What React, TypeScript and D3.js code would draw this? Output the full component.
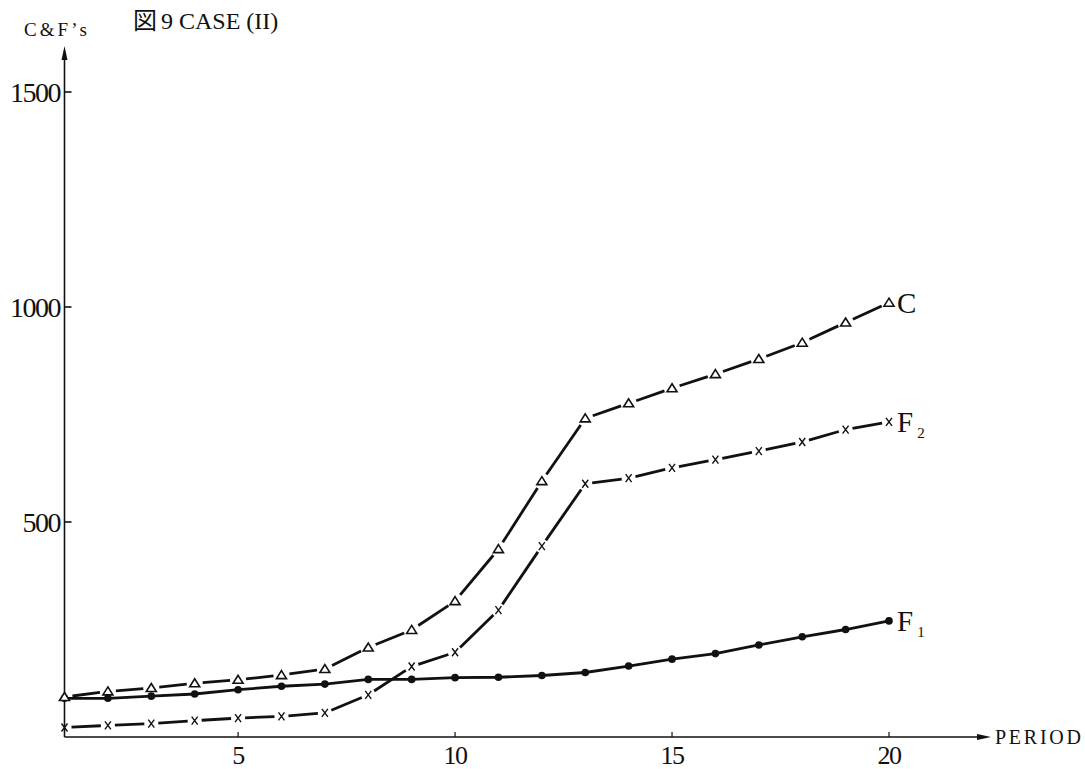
import React, { useEffect, useRef } from "react";
import * as d3 from "d3";

const periods = [1, 2, 3, 4, 5, 6, 7, 8, 9, 10, 11, 12, 13, 14, 15, 16, 17, 18, 19, 20];
const cValues = [93, 106, 114, 125, 133, 144, 158, 208, 249, 316, 437, 595, 741, 776, 811, 844, 879, 917, 964, 1010];
const f1Values = [90, 90, 95, 100, 110, 118, 123, 134, 134, 138, 139, 143, 150, 165, 181, 194, 214, 233, 250, 270];
const f2Values = [22, 27, 31, 38, 44, 48, 56, 98, 164, 197, 295, 444, 589, 602, 626, 645, 665, 686, 715, 733];
const xTicks = [5, 10, 15, 20];
const yTicks = [500, 1000, 1500];

const W = 1085;
const H = 769;
const SERIF = "'Liberation Serif', 'DejaVu Serif', serif";

export default function App() {
  const ref = useRef<SVGSVGElement>(null);

  useEffect(() => {
    const svg = d3.select(ref.current);
    svg.selectAll("*").remove();

    const x = d3.scaleLinear().domain([1, 20]).range([64.5, 889]);
    const y = d3.scaleLinear().domain([0, 1500]).range([737, 92]);
    const ink = "#111";

    // axes
    svg.append("line")
      .attr("x1", x(1)).attr("x2", 980)
      .attr("y1", y(0)).attr("y2", y(0))
      .attr("stroke", ink).attr("stroke-width", 1.6);
    svg.append("path")
      .attr("d", `M991,${y(0)} L977,${y(0) - 3} L977,${y(0) + 3} Z`)
      .attr("fill", ink);
    svg.append("text")
      .attr("x", 995).attr("y", y(0) + 7)
      .attr("font-family", SERIF).attr("font-size", 20)
      .attr("textLength", 86).attr("lengthAdjust", "spacing")
      .attr("fill", ink)
      .text("PERIOD");

    svg.append("line")
      .attr("x1", x(1)).attr("x2", x(1))
      .attr("y1", y(0)).attr("y2", 58)
      .attr("stroke", ink).attr("stroke-width", 1.6);
    svg.append("path")
      .attr("d", `M${x(1)},46 L${x(1) - 3},60 L${x(1) + 3},60 Z`)
      .attr("fill", ink);

    svg.selectAll(".ytick").data(yTicks).enter().append("line")
      .attr("x1", x(1)).attr("x2", x(1) + 7)
      .attr("y1", d => y(d)).attr("y2", d => y(d))
      .attr("stroke", ink).attr("stroke-width", 1.6);
    svg.selectAll(".ylab").data(yTicks).enter().append("text")
      .attr("x", 60).attr("y", d => y(d) + 10)
      .attr("text-anchor", "end")
      .attr("font-family", SERIF).attr("font-size", 28)
      .attr("letter-spacing", -1.5)
      .attr("fill", ink)
      .text(d => d);

    svg.selectAll(".xtick").data(xTicks).enter().append("line")
      .attr("x1", d => x(d)).attr("x2", d => x(d))
      .attr("y1", y(0)).attr("y2", y(0) - 5)
      .attr("stroke", ink).attr("stroke-width", 1.2);
    svg.selectAll(".xlab").data(xTicks).enter().append("text")
      .attr("x", d => x(d)).attr("y", y(0) + 27)
      .attr("text-anchor", "middle")
      .attr("font-family", SERIF).attr("font-size", 26)
      .attr("letter-spacing", -1.5)
      .attr("fill", ink)
      .text(d => d);

    svg.append("text")
      .attr("x", 24).attr("y", 36)
      .attr("font-family", SERIF).attr("font-size", 19)
      .attr("textLength", 63).attr("lengthAdjust", "spacing")
      .attr("fill", ink)
      .text("C&F\u2019s");
    const title = svg.append("text")
      .attr("x", 133).attr("y", 29)
      .attr("font-family", "'Liberation Serif', 'Noto Sans CJK JP', serif")
      .attr("font-size", 24)
      .attr("fill", ink)
      .text("図");
    title.append("tspan").attr("dx", 4).text("9 CASE (II)");

    // F1: solid line with dots
    const pts1 = periods.map((p, i) => [x(p), y(f1Values[i])] as [number, number]);
    svg.append("path")
      .attr("d", d3.line()(pts1))
      .attr("fill", "none").attr("stroke", ink).attr("stroke-width", 2.8);
    svg.selectAll(".f1dot").data(pts1).enter().append("circle")
      .attr("cx", d => d[0]).attr("cy", d => d[1]).attr("r", 3.8)
      .attr("fill", ink);

    // C and F2: segments broken at each marker
    const gapped = (vals: number[], gap: number) => {
      const pts = periods.map((p, i) => [x(p), y(vals[i])]);
      const segs: number[][] = [];
      for (let i = 0; i < pts.length - 1; i++) {
        const [x0, y0] = pts[i];
        const [x1, y1] = pts[i + 1];
        const len = Math.hypot(x1 - x0, y1 - y0);
        const ux = (x1 - x0) / len, uy = (y1 - y0) / len;
        segs.push([x0 + ux * gap, y0 + uy * gap, x1 - ux * gap, y1 - uy * gap]);
      }
      return { pts, segs };
    };

    const c = gapped(cValues, 8);
    svg.selectAll(".cseg").data(c.segs).enter().append("line")
      .attr("x1", d => d[0]).attr("y1", d => d[1])
      .attr("x2", d => d[2]).attr("y2", d => d[3])
      .attr("stroke", ink).attr("stroke-width", 2.8);
    svg.selectAll(".ctri").data(c.pts).enter().append("path")
      .attr("d", d => `M${d[0]},${d[1] - 4.5} L${d[0] + 5},${d[1] + 3.5} L${d[0] - 5},${d[1] + 3.5} Z`)
      .attr("fill", "white").attr("stroke", ink).attr("stroke-width", 1.6);

    const f2 = gapped(f2Values, 7);
    svg.selectAll(".f2seg").data(f2.segs).enter().append("line")
      .attr("x1", d => d[0]).attr("y1", d => d[1])
      .attr("x2", d => d[2]).attr("y2", d => d[3])
      .attr("stroke", ink).attr("stroke-width", 2.8);
    svg.selectAll(".f2x").data(f2.pts).enter().append("path")
      .attr("d", d => `M${d[0] - 3},${d[1] - 4} L${d[0] + 3},${d[1] + 4} M${d[0] + 3},${d[1] - 4} L${d[0] - 3},${d[1] + 4}`)
      .attr("fill", "none").attr("stroke", ink).attr("stroke-width", 1.4);

    // series labels
    const labels = [
      { name: "C", sub: "", v: cValues[19] },
      { name: "F", sub: "2", v: f2Values[19] },
      { name: "F", sub: "1", v: f1Values[19] },
    ];
    labels.forEach(l => {
      const t = svg.append("text")
        .attr("x", x(20) + 8).attr("y", y(l.v) + 10)
        .attr("font-family", SERIF).attr("font-size", 29)
        .attr("fill", ink)
        .text(l.name);
      if (l.sub) {
        t.append("tspan").attr("dx", 4).attr("dy", 6)
          .attr("font-size", 15).text(l.sub);
      }
    });
  }, []);

  return (
    <svg ref={ref} width={W} height={H}
      style={{ position: "absolute", left: 0, top: 0, background: "white" }} />
  );
}
